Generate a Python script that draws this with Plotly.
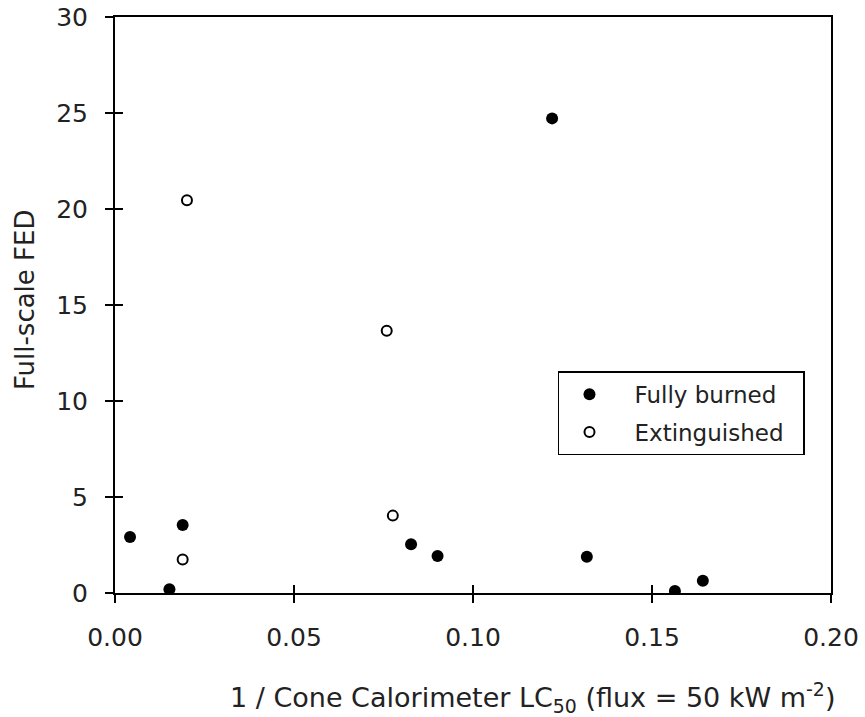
import plotly.graph_objects as go

burned_x = [0.0042, 0.0152, 0.0189, 0.0827, 0.0901, 0.1221, 0.1318, 0.1564, 0.1642]
burned_y = [2.92, 0.19, 3.54, 2.54, 1.93, 24.72, 1.89, 0.10, 0.64]
ext_x = [0.0189, 0.0201, 0.0759, 0.0776]
ext_y = [1.75, 20.45, 13.66, 4.03]

x_ticks = [0.0, 0.05, 0.10, 0.15, 0.20]
x_ticklabels = ["0.00", "0.05", "0.10", "0.15", "0.20"]
y_ticks = [0, 5, 10, 15, 20, 25, 30]

FONT = "DejaVu Sans"
TXT = "#222222"
PAD = "\u00a0\u00a0"

fig = go.Figure()
fig.add_trace(go.Scatter(x=burned_x, y=burned_y, mode="markers", name="Fully burned" + PAD,
                         legendgroup="a",
                         marker=dict(symbol="circle", size=12, color="black")))
fig.add_trace(go.Scatter(x=ext_x, y=ext_y, mode="markers", name="Extinguished" + PAD,
                         legendgroup="b",
                         marker=dict(symbol="circle-open", size=10, color="black",
                                     line=dict(width=2, color="black"))))

axis_common = dict(showgrid=False, zeroline=False, linecolor="black", linewidth=2,
                   ticks="outside", ticklen=8, tickwidth=1.5, tickcolor="black",
                   automargin=False,
                   tickfont=dict(family=FONT, size=25, color=TXT))

fig.update_layout(
    width=865, height=717,
    margin=dict(l=115, r=34, t=17, b=124),
    paper_bgcolor="white", plot_bgcolor="white",
    font=dict(family=FONT, color=TXT),
    xaxis=dict(range=[0, 0.20], tickvals=x_ticks, ticktext=x_ticklabels,
               mirror=True, ticklabelstandoff=13, **axis_common),
    yaxis=dict(range=[0, 30], tickvals=y_ticks, mirror=True, ticklabelstandoff=12,
               **axis_common),
    xaxis2=dict(range=[0, 0.20], tickvals=x_ticks, overlaying="x", showticklabels=False,
                showgrid=False, zeroline=False, showline=False, ticks="inside", ticklen=8,
                tickwidth=1.5, tickcolor="black", anchor="y", automargin=False),
    yaxis2=dict(range=[0, 30], tickvals=y_ticks, overlaying="y", showticklabels=False,
                showgrid=False, zeroline=False, showline=False, ticks="inside", ticklen=8,
                tickwidth=1.5, tickcolor="black", anchor="x", automargin=False),
    legend=dict(x=0.6187, y=0.385, xanchor="left", yanchor="top",
                bordercolor="black", borderwidth=1.5, bgcolor="white",
                font=dict(family=FONT, size=23, color=TXT),
                indentation=-15, itemwidth=80, tracegroupgap=5,
                traceorder="grouped"),
    showlegend=True,
)
# dummy invisible trace to activate the overlay axes
fig.add_trace(go.Scatter(x=[None], y=[None], xaxis="x2", yaxis="y2", showlegend=False,
                         hoverinfo="skip"))

fig.add_annotation(text="1 / Cone Calorimeter LC<sub>50</sub> (flux = 50 kW m<sup>-2</sup>)",
                   xref="paper", yref="paper", x=1.009, y=0, xanchor="right", yanchor="middle",
                   yshift=-104, showarrow=False,
                   font=dict(family=FONT, size=27, color=TXT))
fig.add_annotation(text="Full-scale FED", textangle=-90,
                   xref="paper", yref="paper", x=0, y=0.5, xanchor="center", yanchor="middle",
                   xshift=-90, yshift=5, showarrow=False,
                   font=dict(family=FONT, size=26, color=TXT))

fig.write_html("out.html")
